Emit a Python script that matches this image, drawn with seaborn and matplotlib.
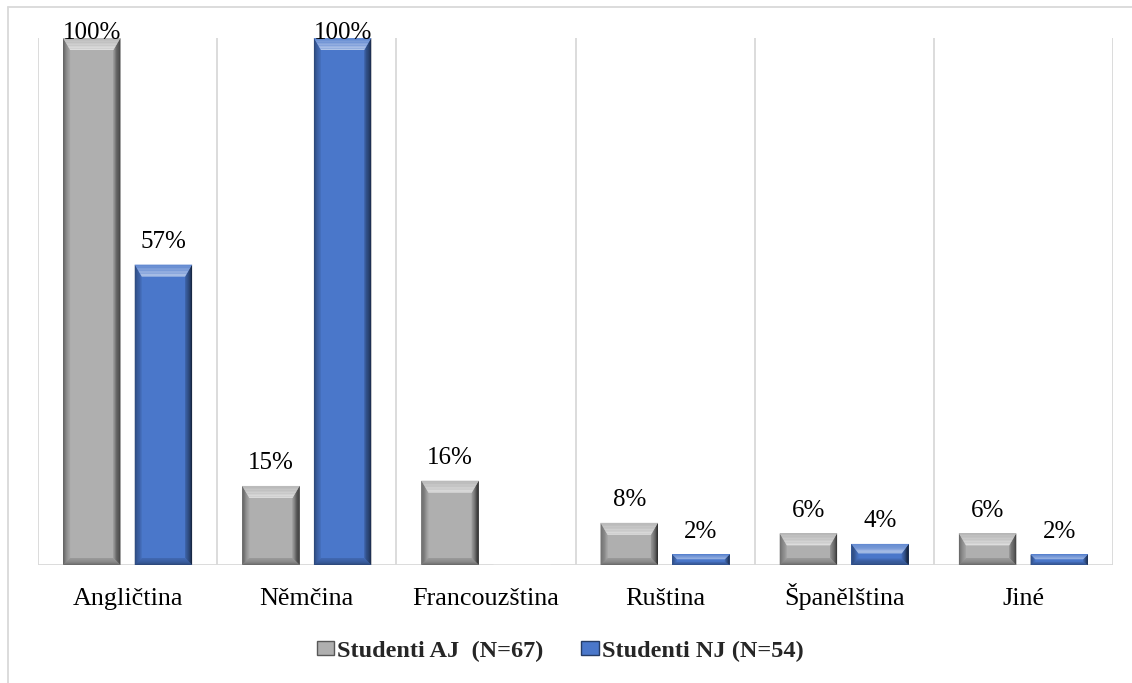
import numpy as np
import pandas as pd
import matplotlib
matplotlib.use("Agg")
import matplotlib.pyplot as plt
import seaborn as sns
from matplotlib.patches import Polygon, Rectangle
from matplotlib.lines import Line2D
import matplotlib.colors as mcolors

categories = ["Angličtina", "Němčina", "Francouzština", "Ruština", "Španělština", "Jiné"]
series_names = ["Studenti AJ  (N=67)", "Studenti NJ (N=54)"]
aj_values = [100, 15, 16, 8, 6, 6]
nj_values = [57, 100, 0, 2, 4, 2]

gray = "#AFAFAF"
blue = "#4A77CA"

sns.set_theme(style="white")
plt.rcParams["font.family"] = ["Liberation Serif", "DejaVu Serif"]

df = pd.DataFrame({
    "cat": categories * 2,
    "val": aj_values + nj_values,
    "series": [series_names[0]] * len(categories) + [series_names[1]] * len(categories),
})

W, H = 1132, 683
fig = plt.figure(figsize=(W / 100, H / 100), dpi=100)
ax = fig.add_axes([38 / W, 118 / H, (1113 - 38) / W, (565 - 38) / H])

sns.barplot(data=df, x="cat", y="val", hue="series", order=categories,
            hue_order=series_names, palette=[gray, blue], saturation=1,
            width=0.8, gap=0.2, ax=ax, legend=False, errorbar=None, zorder=2)

ax.set_xlim(-0.5, len(categories) - 0.5)
ax.set_ylim(0, 100)
ax.set_xlabel("")
ax.set_ylabel("")
ax.set_yticks([])
for s in ax.spines.values():
    s.set_visible(False)
grid_c = "#D9D9D9"
for b in np.arange(-0.5, len(categories), 1.0):
    ax.axvline(b, color=grid_c, lw=1.3, zorder=0)
ax.axhline(0, color=grid_c, lw=1.3, zorder=1)
ax.tick_params(axis="x", length=0, pad=28.5, labelsize=18.8, colors="black")
for lbl in ax.get_xticklabels():
    lbl.set_verticalalignment("baseline")

# bevel shading derived from the bars' own geometry
ax_w_px = (1113 - 38)
ax_h_px = (565 - 38)
xpp = (len(categories)) / ax_w_px
ypp = 100 / ax_h_px

def shade(c, f):
    r, g, b = mcolors.to_rgb(c)
    if f >= 0:
        return (r + (1 - r) * f, g + (1 - g) * f, b + (1 - b) * f)
    f = -f
    return (r * (1 - f), g * (1 - f), b * (1 - f))

def corners(x0, x1, y0, y1, dx, dyb, dyt, t):
    return {"bl": (x0 + t * dx, y0 + t * dyb), "br": (x1 - t * dx, y0 + t * dyb),
            "tr": (x1 - t * dx, y1 - t * dyt), "tl": (x0 + t * dx, y1 - t * dyt)}

sides = {"left": ("bl", "tl"), "right": ("tr", "br"),
         "bottom": ("br", "bl"), "top": ("tl", "tr")}
grad = {"left": (-0.5, -0.05), "right": (-0.85, -0.15),
        "bottom": (-0.45, -0.12), "top": (0.12, 0.6)}

for p in list(ax.patches):
    h = p.get_height()
    if h <= 0:
        continue
    x0 = p.get_x(); x1 = x0 + p.get_width()
    y0 = p.get_y(); y1 = y0 + h
    base = p.get_facecolor()[:3]
    p.set_linewidth(0)
    hp = h / ypp
    dt = min(12, hp * 0.45)
    db = min(7, hp * 0.3)
    dside = min(7, max(dt, 4))
    dx = dside * xpp; dyt = dt * ypp; dyb = db * ypp
    n = 8
    for side in ["left", "right", "bottom", "top"]:
        a, b_ = sides[side]
        f0, f1 = grad[side]
        for i in range(n):
            t0 = i / n; t1 = (i + 1) / n
            c0 = corners(x0, x1, y0, y1, dx, dyb, dyt, t0)
            c1 = corners(x0, x1, y0, y1, dx, dyb, dyt, t1)
            f = f0 + (f1 - f0) * (i + 0.5) / n
            ax.add_patch(Polygon([c0[a], c0[b_], c1[b_], c1[a]], closed=True,
                                 fc=shade(base, f), ec="none", zorder=3,
                                 antialiased=True))
    # value label
    off = -0.8 if h >= 99 else 12
    ax.annotate(f"{int(round(h))}%", (x0 + (x1 - x0) / 2, y1), xytext=(0, off),
                textcoords="offset points", ha="center", va="baseline",
                fontsize=18, color="black", annotation_clip=False, zorder=5)

# outer chart border
fig.add_artist(Line2D([8 / W, 8 / W], [0, 1 - 7 / H], color=grid_c, lw=1.3))
fig.add_artist(Line2D([8 / W, 1], [1 - 7 / H, 1 - 7 / H], color=grid_c, lw=1.3))

handles = [Rectangle((0, 0), 1, 1, fc=gray, ec=shade(mcolors.to_rgb(gray), -0.5), lw=1),
           Rectangle((0, 0), 1, 1, fc=blue, ec=shade(mcolors.to_rgb(blue), -0.5), lw=1)]
fig.legend(handles, series_names, loc="center", bbox_to_anchor=(0.495, 1 - 651 / H),
           ncol=2, frameon=False, handlelength=0.7, handleheight=0.55,
           handletextpad=0.15, columnspacing=1.55,
           prop={"weight": "bold", "size": 17.5})

fig.savefig("out.png", dpi=100, facecolor="white")
